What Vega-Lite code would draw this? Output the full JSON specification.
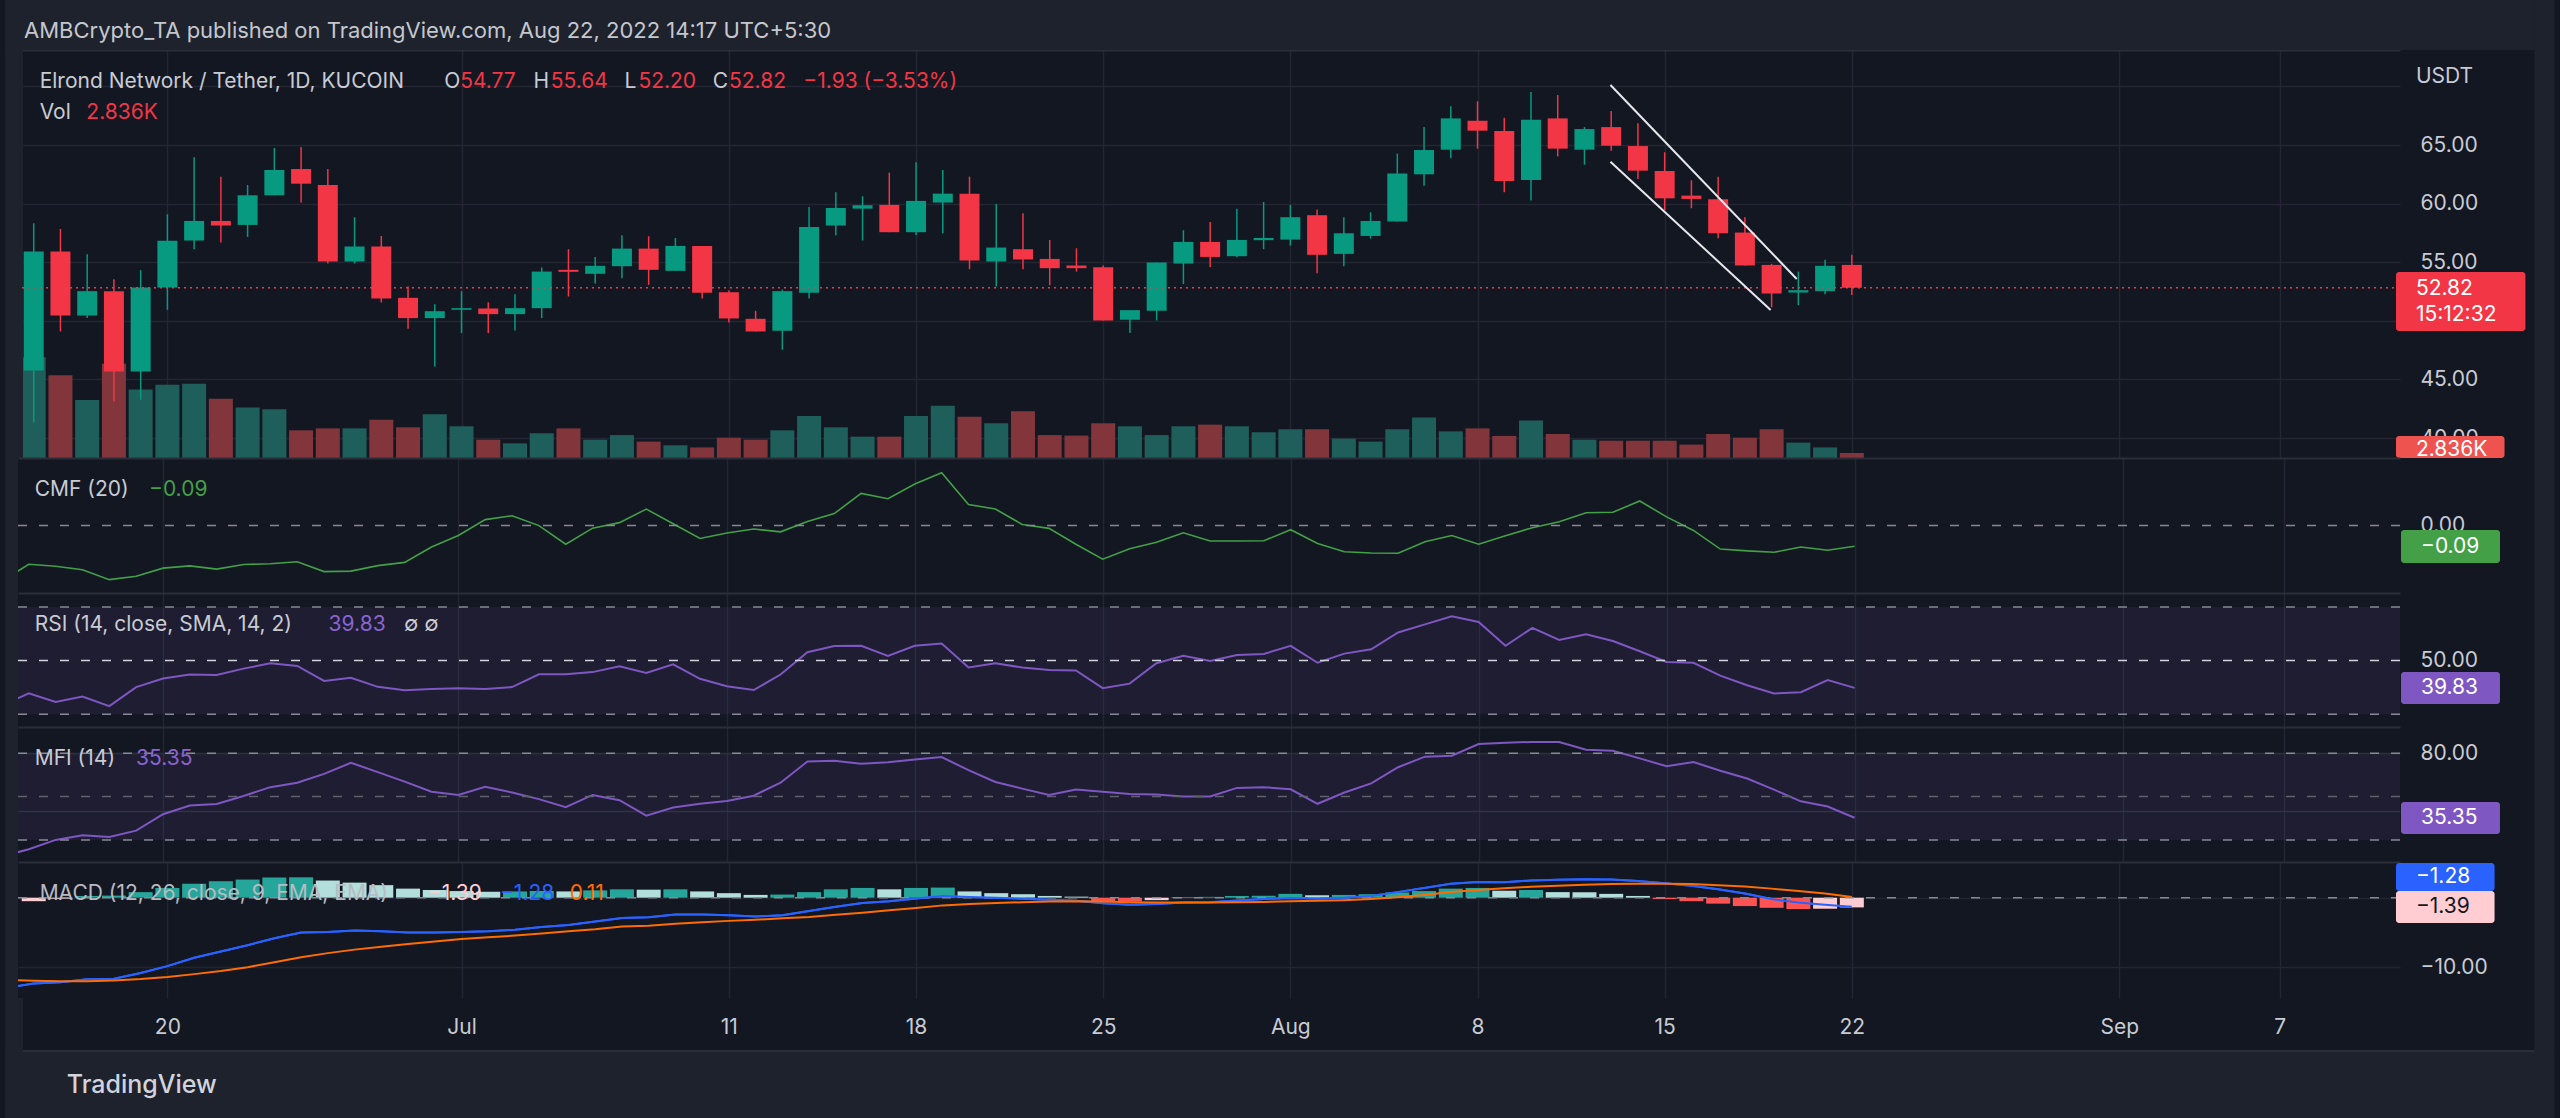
{
  "$schema": "https://vega.github.io/schema/vega-lite/v6.json",
  "autosize": {"type": "none"},
  "padding": {"left": 18, "top": 50, "right": 2542, "bottom": 1068},
  "background": "#131722",
  "spacing": 0,
  "bounds": "flush",
  "config": {
    "view": {"stroke": null, "fill": "#131722"},
    "font": "Inter",
    "text": {"font": "Inter"},
    "axis": {"labelFont": "Inter"}
  },
  "datasets": {
    "bars": [
      {"d":"2022-06-14","o":null,"h":null,"l":null,"c":null,"v":null,"cmf":-0.241,"rsi":33.2,"mfi":8.6,"macd":-12.9,"sig":-11.8,"hist":null,"hs":null},
      {"d":"2022-06-15","o":45.77,"h":58.32,"l":41.34,"c":55.91,"v":57.1,"cmf":-0.168,"rsi":37.8,"mfi":13.5,"macd":-12.3,"sig":-11.9,"hist":-0.5,"hs":"below_rising"},
      {"d":"2022-06-16","o":55.91,"h":57.84,"l":49.09,"c":50.45,"v":46.9,"cmf":-0.177,"rsi":34.6,"mfi":20.0,"macd":-12.1,"sig":-11.96,"hist":-0.15,"hs":"below_rising"},
      {"d":"2022-06-17","o":50.45,"h":55.68,"l":50.23,"c":52.53,"v":32.9,"cmf":-0.192,"rsi":36.6,"mfi":23.2,"macd":-11.7,"sig":-11.96,"hist":0.25,"hs":"above_rising"},
      {"d":"2022-06-18","o":52.53,"h":53.55,"l":43.12,"c":45.68,"v":53.5,"cmf":-0.235,"rsi":33.0,"mfi":22.0,"macd":-11.6,"sig":-11.86,"hist":0.3,"hs":"above_rising"},
      {"d":"2022-06-19","o":45.68,"h":54.32,"l":43.27,"c":52.84,"v":38.9,"cmf":-0.220,"rsi":40.1,"mfi":26.4,"macd":-10.8,"sig":-11.66,"hist":0.8,"hs":"above_rising"},
      {"d":"2022-06-20","o":52.84,"h":59.09,"l":50.94,"c":56.82,"v":41.6,"cmf":-0.185,"rsi":43.3,"mfi":37.8,"macd":-9.8,"sig":-11.36,"hist":1.4,"hs":"above_rising"},
      {"d":"2022-06-21","o":56.85,"h":63.95,"l":56.11,"c":58.52,"v":42.1,"cmf":-0.175,"rsi":44.8,"mfi":43.8,"macd":-8.6,"sig":-10.95,"hist":2.0,"hs":"above_rising"},
      {"d":"2022-06-22","o":58.52,"h":62.30,"l":56.68,"c":58.13,"v":33.6,"cmf":-0.189,"rsi":44.6,"mfi":44.8,"macd":-7.7,"sig":-10.5,"hist":2.36,"hs":"above_rising"},
      {"d":"2022-06-23","o":58.18,"h":61.59,"l":57.16,"c":60.71,"v":28.7,"cmf":-0.169,"rsi":47.0,"mfi":50.4,"macd":-6.8,"sig":-9.95,"hist":2.6,"hs":"above_rising"},
      {"d":"2022-06-24","o":60.71,"h":64.74,"l":60.71,"c":62.87,"v":27.6,"cmf":-0.166,"rsi":49.0,"mfi":56.5,"macd":-5.8,"sig":-9.25,"hist":2.9,"hs":"above_rising"},
      {"d":"2022-06-25","o":62.95,"h":64.83,"l":60.09,"c":61.70,"v":15.7,"cmf":-0.157,"rsi":48.0,"mfi":59.6,"macd":-5.0,"sig":-8.54,"hist":2.92,"hs":"above_rising"},
      {"d":"2022-06-26","o":61.59,"h":62.95,"l":54.89,"c":55.06,"v":16.8,"cmf":-0.200,"rsi":42.4,"mfi":65.7,"macd":-4.9,"sig":-7.94,"hist":2.46,"hs":"above_falling"},
      {"d":"2022-06-27","o":55.06,"h":58.84,"l":54.89,"c":56.34,"v":16.8,"cmf":-0.198,"rsi":43.6,"mfi":73.4,"macd":-4.7,"sig":-7.44,"hist":2.16,"hs":"above_falling"},
      {"d":"2022-06-28","o":56.34,"h":57.24,"l":51.56,"c":51.90,"v":21.7,"cmf":-0.174,"rsi":40.2,"mfi":66.9,"macd":-4.8,"sig":-7.04,"hist":1.8,"hs":"above_falling"},
      {"d":"2022-06-29","o":51.96,"h":52.93,"l":49.32,"c":50.23,"v":17.4,"cmf":-0.160,"rsi":38.9,"mfi":60.3,"macd":-5.0,"sig":-6.63,"hist":1.3,"hs":"above_falling"},
      {"d":"2022-06-30","o":50.23,"h":51.42,"l":46.11,"c":50.82,"v":24.8,"cmf":-0.093,"rsi":39.4,"mfi":53.3,"macd":-5.0,"sig":-6.28,"hist":1.1,"hs":"above_falling"},
      {"d":"2022-07-01","o":50.94,"h":52.53,"l":48.95,"c":51.08,"v":18.0,"cmf":-0.043,"rsi":39.7,"mfi":51.1,"macd":-4.9,"sig":-5.93,"hist":0.95,"hs":"above_falling"},
      {"d":"2022-07-02","o":51.05,"h":51.59,"l":48.95,"c":50.57,"v":10.4,"cmf":0.026,"rsi":39.4,"mfi":56.7,"macd":-4.8,"sig":-5.68,"hist":0.85,"hs":"above_falling"},
      {"d":"2022-07-03","o":50.57,"h":52.27,"l":49.18,"c":51.08,"v":8.3,"cmf":0.043,"rsi":40.1,"mfi":52.8,"macd":-4.6,"sig":-5.43,"hist":0.9,"hs":"above_rising"},
      {"d":"2022-07-04","o":51.08,"h":54.55,"l":50.23,"c":54.20,"v":14.0,"cmf":0.000,"rsi":44.9,"mfi":48.2,"macd":-4.2,"sig":-5.13,"hist":0.95,"hs":"above_rising"},
      {"d":"2022-07-05","o":54.35,"h":56.11,"l":52.07,"c":54.18,"v":16.8,"cmf":-0.081,"rsi":44.9,"mfi":42.6,"macd":-3.9,"sig":-4.82,"hist":0.9,"hs":"above_falling"},
      {"d":"2022-07-06","o":54.01,"h":55.45,"l":53.18,"c":54.69,"v":10.4,"cmf":-0.011,"rsi":45.7,"mfi":51.1,"macd":-3.4,"sig":-4.52,"hist":1.05,"hs":"above_rising"},
      {"d":"2022-07-07","o":54.66,"h":57.30,"l":53.64,"c":56.16,"v":13.0,"cmf":0.013,"rsi":47.9,"mfi":47.5,"macd":-2.9,"sig":-4.12,"hist":1.2,"hs":"above_rising"},
      {"d":"2022-07-08","o":56.16,"h":57.22,"l":53.07,"c":54.35,"v":9.3,"cmf":0.072,"rsi":45.4,"mfi":36.8,"macd":-2.8,"sig":-4.02,"hist":1.15,"hs":"above_falling"},
      {"d":"2022-07-09","o":54.26,"h":57.07,"l":54.26,"c":56.39,"v":7.2,"cmf":0.008,"rsi":48.6,"mfi":42.4,"macd":-2.4,"sig":-3.72,"hist":1.2,"hs":"above_rising"},
      {"d":"2022-07-10","o":56.39,"h":56.39,"l":51.90,"c":52.39,"v":6.0,"cmf":-0.056,"rsi":43.2,"mfi":45.0,"macd":-2.4,"sig":-3.52,"hist":0.9,"hs":"above_falling"},
      {"d":"2022-07-11","o":52.44,"h":52.59,"l":49.86,"c":50.20,"v":11.5,"cmf":-0.032,"rsi":40.4,"mfi":47.0,"macd":-2.5,"sig":-3.32,"hist":0.65,"hs":"above_falling"},
      {"d":"2022-07-12","o":50.17,"h":50.85,"l":49.09,"c":49.09,"v":10.4,"cmf":-0.015,"rsi":39.0,"mfi":50.6,"macd":-2.7,"sig":-3.17,"hist":0.4,"hs":"above_falling"},
      {"d":"2022-07-13","o":49.15,"h":52.67,"l":47.53,"c":52.53,"v":15.7,"cmf":-0.027,"rsi":44.8,"mfi":59.6,"macd":-2.5,"sig":-2.96,"hist":0.45,"hs":"above_rising"},
      {"d":"2022-07-14","o":52.39,"h":59.72,"l":51.90,"c":58.01,"v":23.8,"cmf":0.018,"rsi":53.1,"mfi":74.2,"macd":-1.9,"sig":-2.76,"hist":0.8,"hs":"above_rising"},
      {"d":"2022-07-15","o":58.13,"h":60.97,"l":57.30,"c":59.63,"v":17.4,"cmf":0.052,"rsi":55.4,"mfi":74.7,"macd":-1.3,"sig":-2.46,"hist":1.2,"hs":"above_rising"},
      {"d":"2022-07-16","o":59.57,"h":60.63,"l":56.85,"c":59.86,"v":12.1,"cmf":0.140,"rsi":55.5,"mfi":72.7,"macd":-0.75,"sig":-2.16,"hist":1.4,"hs":"above_rising"},
      {"d":"2022-07-17","o":59.89,"h":62.64,"l":57.56,"c":57.56,"v":12.1,"cmf":0.117,"rsi":51.7,"mfi":73.7,"macd":-0.5,"sig":-1.81,"hist":1.2,"hs":"above_falling"},
      {"d":"2022-07-18","o":57.56,"h":63.52,"l":57.33,"c":60.23,"v":23.8,"cmf":0.181,"rsi":55.5,"mfi":75.6,"macd":-0.1,"sig":-1.46,"hist":1.4,"hs":"above_rising"},
      {"d":"2022-07-19","o":60.09,"h":62.87,"l":57.47,"c":60.85,"v":29.7,"cmf":0.230,"rsi":56.4,"mfi":77.3,"macd":0.25,"sig":-1.1,"hist":1.45,"hs":"above_rising"},
      {"d":"2022-07-20","o":60.85,"h":62.30,"l":54.40,"c":55.14,"v":23.4,"cmf":0.092,"rsi":47.4,"mfi":68.3,"macd":0.1,"sig":-0.9,"hist":0.9,"hs":"above_falling"},
      {"d":"2022-07-21","o":55.06,"h":59.97,"l":52.93,"c":56.25,"v":19.7,"cmf":0.072,"rsi":49.0,"mfi":60.1,"macd":0.0,"sig":-0.75,"hist":0.65,"hs":"above_falling"},
      {"d":"2022-07-22","o":56.11,"h":59.18,"l":54.40,"c":55.23,"v":26.5,"cmf":0.005,"rsi":47.4,"mfi":55.5,"macd":-0.15,"sig":-0.65,"hist":0.5,"hs":"above_falling"},
      {"d":"2022-07-23","o":55.28,"h":56.90,"l":53.04,"c":54.49,"v":13.0,"cmf":-0.012,"rsi":46.5,"mfi":51.1,"macd":-0.3,"sig":-0.55,"hist":0.25,"hs":"above_falling"},
      {"d":"2022-07-24","o":54.72,"h":56.19,"l":54.20,"c":54.49,"v":12.7,"cmf":-0.081,"rsi":46.3,"mfi":54.8,"macd":-0.45,"sig":-0.5,"hist":0.15,"hs":"above_falling"},
      {"d":"2022-07-25","o":54.57,"h":54.72,"l":50.03,"c":50.03,"v":19.7,"cmf":-0.146,"rsi":39.7,"mfi":53.3,"macd":-0.8,"sig":-0.55,"hist":-0.5,"hs":"below_falling"},
      {"d":"2022-07-26","o":50.09,"h":50.91,"l":48.95,"c":50.91,"v":18.0,"cmf":-0.101,"rsi":41.4,"mfi":51.8,"macd":-1.0,"sig":-0.65,"hist":-0.55,"hs":"below_falling"},
      {"d":"2022-07-27","o":50.85,"h":54.97,"l":50.03,"c":54.97,"v":13.0,"cmf":-0.072,"rsi":49.0,"mfi":51.4,"macd":-0.9,"sig":-0.7,"hist":-0.35,"hs":"below_rising"},
      {"d":"2022-07-28","o":54.89,"h":57.73,"l":53.13,"c":56.73,"v":18.0,"cmf":-0.031,"rsi":51.8,"mfi":50.1,"macd":-0.7,"sig":-0.7,"hist":0.1,"hs":"above_rising"},
      {"d":"2022-07-29","o":56.73,"h":58.44,"l":54.60,"c":55.45,"v":18.9,"cmf":-0.067,"rsi":49.9,"mfi":50.1,"macd":-0.65,"sig":-0.7,"hist":0.12,"hs":"above_rising"},
      {"d":"2022-07-30","o":55.51,"h":59.57,"l":55.45,"c":56.90,"v":18.0,"cmf":-0.067,"rsi":52.1,"mfi":56.0,"macd":-0.4,"sig":-0.65,"hist":0.25,"hs":"above_rising"},
      {"d":"2022-07-31","o":56.88,"h":60.14,"l":56.11,"c":57.07,"v":14.6,"cmf":-0.066,"rsi":52.5,"mfi":56.5,"macd":-0.2,"sig":-0.6,"hist":0.28,"hs":"above_rising"},
      {"d":"2022-08-01","o":56.93,"h":59.89,"l":56.42,"c":58.84,"v":16.3,"cmf":-0.018,"rsi":55.5,"mfi":55.0,"macd":-0.05,"sig":-0.5,"hist":0.55,"hs":"above_rising"},
      {"d":"2022-08-02","o":59.01,"h":59.49,"l":54.06,"c":55.63,"v":16.3,"cmf":-0.078,"rsi":49.2,"mfi":45.0,"macd":-0.1,"sig":-0.45,"hist":0.35,"hs":"above_falling"},
      {"d":"2022-08-03","o":55.71,"h":58.84,"l":54.66,"c":57.47,"v":11.0,"cmf":-0.114,"rsi":52.6,"mfi":52.8,"macd":0.0,"sig":-0.35,"hist":0.4,"hs":"above_rising"},
      {"d":"2022-08-04","o":57.24,"h":59.26,"l":57.02,"c":58.52,"v":9.3,"cmf":-0.119,"rsi":54.2,"mfi":59.1,"macd":0.25,"sig":-0.2,"hist":0.5,"hs":"above_rising"},
      {"d":"2022-08-05","o":58.47,"h":64.26,"l":58.47,"c":62.56,"v":16.3,"cmf":-0.120,"rsi":60.5,"mfi":70.3,"macd":0.8,"sig":0.05,"hist":0.75,"hs":"above_rising"},
      {"d":"2022-08-06","o":62.50,"h":66.53,"l":61.53,"c":64.57,"v":22.9,"cmf":-0.070,"rsi":63.5,"mfi":77.6,"macd":1.4,"sig":0.4,"hist":0.95,"hs":"above_rising"},
      {"d":"2022-08-07","o":64.60,"h":68.30,"l":63.86,"c":67.27,"v":15.1,"cmf":-0.043,"rsi":66.5,"mfi":78.3,"macd":2.0,"sig":0.8,"hist":1.3,"hs":"above_rising"},
      {"d":"2022-08-08","o":67.07,"h":68.72,"l":64.69,"c":66.22,"v":16.8,"cmf":-0.081,"rsi":64.4,"mfi":86.3,"macd":2.26,"sig":1.1,"hist":1.4,"hs":"above_rising"},
      {"d":"2022-08-09","o":66.19,"h":67.33,"l":60.97,"c":61.93,"v":12.5,"cmf":-0.044,"rsi":55.5,"mfi":87.3,"macd":2.2,"sig":1.36,"hist":1.0,"hs":"above_falling"},
      {"d":"2022-08-10","o":62.02,"h":69.52,"l":60.26,"c":67.16,"v":21.2,"cmf":-0.009,"rsi":62.2,"mfi":87.8,"macd":2.46,"sig":1.56,"hist":1.1,"hs":"above_rising"},
      {"d":"2022-08-11","o":67.27,"h":69.26,"l":64.03,"c":64.69,"v":13.6,"cmf":0.017,"rsi":57.7,"mfi":87.8,"macd":2.56,"sig":1.7,"hist":0.8,"hs":"above_falling"},
      {"d":"2022-08-12","o":64.60,"h":66.53,"l":63.32,"c":66.36,"v":10.4,"cmf":0.056,"rsi":59.8,"mfi":82.4,"macd":2.66,"sig":1.86,"hist":0.78,"hs":"above_falling"},
      {"d":"2022-08-13","o":66.53,"h":67.90,"l":64.52,"c":64.94,"v":9.8,"cmf":0.058,"rsi":57.3,"mfi":81.7,"macd":2.6,"sig":1.96,"hist":0.55,"hs":"above_falling"},
      {"d":"2022-08-14","o":64.91,"h":66.85,"l":62.10,"c":62.81,"v":9.8,"cmf":0.107,"rsi":53.5,"mfi":76.4,"macd":2.4,"sig":2.0,"hist":0.25,"hs":"above_falling"},
      {"d":"2022-08-15","o":62.78,"h":64.38,"l":59.43,"c":60.45,"v":9.8,"cmf":0.038,"rsi":49.5,"mfi":71.0,"macd":2.06,"sig":2.0,"hist":-0.2,"hs":"below_falling"},
      {"d":"2022-08-16","o":60.68,"h":61.99,"l":59.60,"c":60.40,"v":7.6,"cmf":-0.021,"rsi":49.2,"mfi":73.9,"macd":1.7,"sig":1.96,"hist":-0.5,"hs":"below_falling"},
      {"d":"2022-08-17","o":60.37,"h":62.30,"l":57.05,"c":57.47,"v":13.6,"cmf":-0.102,"rsi":44.4,"mfi":67.9,"macd":1.2,"sig":1.8,"hist":-0.85,"hs":"below_falling"},
      {"d":"2022-08-18","o":57.53,"h":58.84,"l":54.72,"c":54.72,"v":11.5,"cmf":-0.110,"rsi":40.8,"mfi":62.5,"macd":0.6,"sig":1.6,"hist":-1.2,"hs":"below_falling"},
      {"d":"2022-08-19","o":54.77,"h":54.86,"l":51.16,"c":52.33,"v":16.3,"cmf":-0.116,"rsi":37.7,"mfi":54.8,"macd":-0.2,"sig":1.3,"hist":-1.45,"hs":"below_falling"},
      {"d":"2022-08-20","o":52.41,"h":54.20,"l":51.33,"c":52.61,"v":8.7,"cmf":-0.093,"rsi":38.2,"mfi":46.7,"macd":-0.7,"sig":0.95,"hist":-1.62,"hs":"below_falling"},
      {"d":"2022-08-21","o":52.53,"h":55.20,"l":52.27,"c":54.69,"v":6.0,"cmf":-0.107,"rsi":42.7,"mfi":43.1,"macd":-1.0,"sig":0.6,"hist":-1.58,"hs":"below_rising"},
      {"d":"2022-08-22","o":54.77,"h":55.64,"l":52.20,"c":52.82,"v":2.836,"cmf":-0.090,"rsi":39.83,"mfi":35.35,"macd":-1.28,"sig":0.11,"hist":-1.39,"hs":"below_rising"}
    ],
    "trend": [
      {"line":"upper","d":"2022-08-12T23:20:00Z","p":70.12},
      {"line":"upper","d":"2022-08-19T22:33:00Z","p":53.57},
      {"line":"lower","d":"2022-08-12T23:20:00Z","p":63.58},
      {"line":"lower","d":"2022-08-18T23:07:00Z","p":50.92}
    ]
  },
  "vconcat": [
    {
      "width": 2382, "height": 408,
      "layer": [
        {
          "data": {"name": "bars"},
          "mark": {"type": "bar", "width": 24},
          "encoding": {
            "x": {"field": "d", "type": "temporal", "scale": {"type": "utc", "domain": [{"year":2022,"month":6,"date":14,"hours":14,"minutes":23,"utc":true},{"year":2022,"month":9,"date":11,"hours":7,"minutes":34,"utc":true}]}},
            "y": {"field": "v", "type": "quantitative", "scale": {"domain": [0, 231.4], "nice": false, "zero": false}, "axis": null},
            "color": {"condition": {"test": "datum.c >= datum.o", "value": "#1f5f5b"}, "value": "#82363b"}
          }
        },
        {
          "layer": [
            {
              "data": {"name": "bars"},
              "mark": {"type": "rule", "strokeWidth": 1.5},
              "encoding": {
                "x": {"field": "d", "type": "temporal", "scale": {"type": "utc", "domain": [{"year":2022,"month":6,"date":14,"hours":14,"minutes":23,"utc":true},{"year":2022,"month":9,"date":11,"hours":7,"minutes":34,"utc":true}]},
                  "axis": {"orient": "top", "title": null, "labels": false, "ticks": false, "domain": true, "domainColor": "#2a2e39", "domainWidth": 2, "grid": true, "gridColor": "#232632", "gridWidth": 1.5, "zindex": 0,
                    "values": [{"year":2022,"month":6,"date":20,"utc":true},{"year":2022,"month":7,"date":1,"utc":true},{"year":2022,"month":7,"date":11,"utc":true},{"year":2022,"month":7,"date":18,"utc":true},{"year":2022,"month":7,"date":25,"utc":true},{"year":2022,"month":8,"date":1,"utc":true},{"year":2022,"month":8,"date":8,"utc":true},{"year":2022,"month":8,"date":15,"utc":true},{"year":2022,"month":8,"date":22,"utc":true},{"year":2022,"month":9,"date":1,"utc":true},{"year":2022,"month":9,"date":7,"utc":true}]}},
                "y": {"field": "l", "type": "quantitative", "scale": {"domain": [38.294, 73.106], "nice": false, "zero": false},
                  "axis": {"orient": "right", "title": null, "ticks": false, "tickSize": 0, "domain": false, "labelPadding": 20, "labelFontSize": 21, "labelColor": "#c8cbd3", "labelAlign": "left", "labelBaseline": "middle", "labelOverlap": false, "grid": true, "gridColor": "#232632", "gridWidth": 1.5, "zindex": 0, "values": [40, 45, 50, 55, 60, 65, 70], "labelExpr": "(datum.value == 70 || datum.value == 50) ? '' : format(datum.value, '.2f')"}},
                "y2": {"field": "h"},
                "color": {"condition": {"test": "datum.c >= datum.o", "value": "#089981"}, "value": "#f23645"}
              }
            },
            {"data": {"values": [{}]}, "mark": {"type": "rect", "color": "#1e222d"},
             "encoding": {"x": {"datum": {"year":2022,"month":6,"date":13,"hours":22,"minutes":18,"utc":true}, "type": "temporal"}, "x2": {"datum": {"year":2022,"month":9,"date":17,"hours":6,"minutes":35,"utc":true}}, "y": {"datum": 77.4, "type": "quantitative"}, "y2": {"datum": 73.106}}},
            {"data": {"values": [{}]}, "mark": {"type": "rect", "color": "#1e222d"},
             "encoding": {"x": {"datum": {"year":2022,"month":6,"date":13,"hours":22,"minutes":18,"utc":true}, "type": "temporal"}, "x2": {"datum": {"year":2022,"month":6,"date":14,"hours":14,"minutes":23,"utc":true}}, "y": {"datum": 77.4, "type": "quantitative"}, "y2": {"datum": -18.2}}},
            {"data": {"values": [{}]}, "mark": {"type": "rect", "color": "#1e222d"},
             "encoding": {"x": {"datum": {"year":2022,"month":9,"date":16,"hours":12,"minutes":41,"utc":true}, "type": "temporal"}, "x2": {"datum": {"year":2022,"month":9,"date":17,"hours":6,"minutes":35,"utc":true}}, "y": {"datum": 77.4, "type": "quantitative"}, "y2": {"datum": -18.2}}},
            {
              "data": {"name": "bars"},
              "mark": {"type": "bar", "width": 20},
              "encoding": {
                "x": {"field": "d", "type": "temporal"},
                "y": {"field": "o", "type": "quantitative", "scale": {"domain": [38.294, 73.106], "nice": false, "zero": false}},
                "y2": {"field": "c"},
                "color": {"condition": {"test": "datum.c >= datum.o", "value": "#089981"}, "value": "#f23645"}
              }
            },
            {
              "data": {"values": [{}]},
              "mark": {"type": "rule", "color": "#f23645", "strokeDash": [2, 4], "strokeWidth": 1.5},
              "encoding": {"y": {"datum": 52.82, "type": "quantitative"}}
            },
            {
              "data": {"name": "trend"},
              "mark": {"type": "line", "color": "#e6e8ee", "strokeWidth": 2, "clip": true},
              "encoding": {
                "x": {"field": "d", "type": "temporal"},
                "y": {"field": "p", "type": "quantitative"},
                "detail": {"field": "line"}
              }
            },
            {"data": {"values": [{}]}, "mark": {"type": "text", "text": "AMBCrypto_TA published on TradingView.com, Aug 22, 2022 14:17 UTC+5:30", "align": "left", "baseline": "middle", "fontSize": 22, "color": "#c4c7ce"},
             "encoding": {"x": {"datum": {"year":2022,"month":6,"date":14,"hours":15,"minutes":17,"utc":true}, "type": "temporal"}, "y": {"datum": 74.73, "type": "quantitative"}}},
            {"data": {"values": [{}]}, "mark": {"type": "text", "text": "Elrond Network / Tether, 1D, KUCOIN", "align": "left", "baseline": "middle", "fontSize": 21, "color": "#c8cbd3"},
             "encoding": {"x": {"datum": {"year":2022,"month":6,"date":15,"hours":5,"minutes":19,"utc":true}, "type": "temporal"}, "y": {"datum": 70.40, "type": "quantitative"}}},
            {"data": {"values": [{}]}, "mark": {"type": "text", "text": "O", "align": "left", "baseline": "middle", "fontSize": 21, "color": "#c8cbd3"},
             "encoding": {"x": {"datum": {"year":2022,"month":6,"date":30,"hours":8,"minutes":30,"utc":true}, "type": "temporal"}, "y": {"datum": 70.40, "type": "quantitative"}}},
            {"data": {"values": [{}]}, "mark": {"type": "text", "text": "54.77", "align": "left", "baseline": "middle", "fontSize": 21, "color": "#f23645"},
             "encoding": {"x": {"datum": {"year":2022,"month":6,"date":30,"hours":22,"minutes":48,"utc":true}, "type": "temporal"}, "y": {"datum": 70.40, "type": "quantitative"}}},
            {"data": {"values": [{}]}, "mark": {"type": "text", "text": "H", "align": "left", "baseline": "middle", "fontSize": 21, "color": "#c8cbd3"},
             "encoding": {"x": {"datum": {"year":2022,"month":7,"date":3,"hours":16,"minutes":35,"utc":true}, "type": "temporal"}, "y": {"datum": 70.40, "type": "quantitative"}}},
            {"data": {"values": [{}]}, "mark": {"type": "text", "text": "55.64", "align": "left", "baseline": "middle", "fontSize": 21, "color": "#f23645"},
             "encoding": {"x": {"datum": {"year":2022,"month":7,"date":4,"hours":8,"minutes":8,"utc":true}, "type": "temporal"}, "y": {"datum": 70.40, "type": "quantitative"}}},
            {"data": {"values": [{}]}, "mark": {"type": "text", "text": "L", "align": "left", "baseline": "middle", "fontSize": 21, "color": "#c8cbd3"},
             "encoding": {"x": {"datum": {"year":2022,"month":7,"date":7,"hours":2,"minutes":17,"utc":true}, "type": "temporal"}, "y": {"datum": 70.40, "type": "quantitative"}}},
            {"data": {"values": [{}]}, "mark": {"type": "text", "text": "52.20", "align": "left", "baseline": "middle", "fontSize": 21, "color": "#f23645"},
             "encoding": {"x": {"datum": {"year":2022,"month":7,"date":7,"hours":14,"minutes":47,"utc":true}, "type": "temporal"}, "y": {"datum": 70.40, "type": "quantitative"}}},
            {"data": {"values": [{}]}, "mark": {"type": "text", "text": "C", "align": "left", "baseline": "middle", "fontSize": 21, "color": "#c8cbd3"},
             "encoding": {"x": {"datum": {"year":2022,"month":7,"date":10,"hours":9,"minutes":29,"utc":true}, "type": "temporal"}, "y": {"datum": 70.40, "type": "quantitative"}}},
            {"data": {"values": [{}]}, "mark": {"type": "text", "text": "52.82", "align": "left", "baseline": "middle", "fontSize": 21, "color": "#f23645"},
             "encoding": {"x": {"datum": {"year":2022,"month":7,"date":11,"hours":0,"minutes":9,"utc":true}, "type": "temporal"}, "y": {"datum": 70.40, "type": "quantitative"}}},
            {"data": {"values": [{}]}, "mark": {"type": "text", "text": "−1.93 (−3.53%)", "align": "left", "baseline": "middle", "fontSize": 21, "color": "#f23645"},
             "encoding": {"x": {"datum": {"year":2022,"month":7,"date":13,"hours":18,"minutes":49,"utc":true}, "type": "temporal"}, "y": {"datum": 70.40, "type": "quantitative"}}},
            {"data": {"values": [{}]}, "mark": {"type": "text", "text": "Vol", "align": "left", "baseline": "middle", "fontSize": 21, "color": "#c8cbd3"},
             "encoding": {"x": {"datum": {"year":2022,"month":6,"date":15,"hours":5,"minutes":19,"utc":true}, "type": "temporal"}, "y": {"datum": 67.70, "type": "quantitative"}}},
            {"data": {"values": [{}]}, "mark": {"type": "text", "text": "2.836K", "align": "left", "baseline": "middle", "fontSize": 21, "color": "#f23645"},
             "encoding": {"x": {"datum": {"year":2022,"month":6,"date":16,"hours":23,"minutes":14,"utc":true}, "type": "temporal"}, "y": {"datum": 67.70, "type": "quantitative"}}},
            {"data": {"values": [{}]}, "mark": {"type": "text", "text": "USDT", "align": "left", "baseline": "middle", "fontSize": 21, "color": "#c8cbd3"},
             "encoding": {"x": {"datum": {"year":2022,"month":9,"date":12,"hours":2,"minutes":20,"utc":true}, "type": "temporal"}, "y": {"datum": 70.83, "type": "quantitative"}}},
            {"data": {"values": [{}]}, "mark": {"type": "rect", "color": "#f23645", "cornerRadius": 3},
             "encoding": {"x": {"datum": {"year":2022,"month":9,"date":11,"hours":8,"minutes":27,"utc":true}, "type": "temporal"}, "x2": {"datum": {"year":2022,"month":9,"date":16,"hours":4,"minutes":39,"utc":true}}, "y": {"datum": 54.164, "type": "quantitative"}, "y2": {"datum": 49.130}}},
            {"data": {"values": [{}]}, "mark": {"type": "text", "text": "52.82", "align": "left", "baseline": "middle", "fontSize": 21, "color": "#ffffff"},
             "encoding": {"x": {"datum": {"year":2022,"month":9,"date":12,"hours":2,"minutes":20,"utc":true}, "type": "temporal"}, "y": {"datum": 52.74, "type": "quantitative"}}},
            {"data": {"values": [{}]}, "mark": {"type": "text", "text": "15:12:32", "align": "left", "baseline": "middle", "fontSize": 21, "color": "#ffffff"},
             "encoding": {"x": {"datum": {"year":2022,"month":9,"date":12,"hours":2,"minutes":20,"utc":true}, "type": "temporal"}, "y": {"datum": 50.495, "type": "quantitative"}}},
            {"data": {"values": [{}]}, "mark": {"type": "rect", "color": "#ef5350", "cornerRadius": 3},
             "encoding": {"x": {"datum": {"year":2022,"month":9,"date":11,"hours":8,"minutes":27,"utc":true}, "type": "temporal"}, "x2": {"datum": {"year":2022,"month":9,"date":15,"hours":9,"minutes":53,"utc":true}}, "y": {"datum": 40.171, "type": "quantitative"}, "y2": {"datum": 38.294}}},
            {"data": {"values": [{}]}, "mark": {"type": "text", "text": "2.836K", "align": "left", "baseline": "middle", "fontSize": 21, "color": "#ffffff"},
             "encoding": {"x": {"datum": {"year":2022,"month":9,"date":12,"hours":2,"minutes":20,"utc":true}, "type": "temporal"}, "y": {"datum": 38.976, "type": "quantitative"}}}
          ]
        }
      ],
      "resolve": {"scale": {"y": "independent"}}
    },
    {
      "width": 2382, "height": 135,
      "layer": [
        {
          "data": {"name": "bars"},
          "mark": {"type": "line", "color": "#43a047", "strokeWidth": 1.6, "clip": true},
          "encoding": {
            "x": {"field": "d", "type": "temporal", "scale": {"type": "utc", "domain": [{"year":2022,"month":6,"date":14,"hours":14,"minutes":23,"utc":true},{"year":2022,"month":9,"date":11,"hours":7,"minutes":34,"utc":true}]},
              "axis": {"orient": "top", "title": null, "labels": false, "ticks": false, "domain": true, "domainColor": "#2a2e39", "domainWidth": 2, "grid": true, "gridColor": "#232632", "gridWidth": 1.5, "zindex": 0,
                "values": [{"year":2022,"month":6,"date":20,"utc":true},{"year":2022,"month":7,"date":1,"utc":true},{"year":2022,"month":7,"date":11,"utc":true},{"year":2022,"month":7,"date":18,"utc":true},{"year":2022,"month":7,"date":25,"utc":true},{"year":2022,"month":8,"date":1,"utc":true},{"year":2022,"month":8,"date":8,"utc":true},{"year":2022,"month":8,"date":15,"utc":true},{"year":2022,"month":8,"date":22,"utc":true},{"year":2022,"month":9,"date":1,"utc":true},{"year":2022,"month":9,"date":7,"utc":true}]}},
            "y": {"field": "cmf", "type": "quantitative", "scale": {"domain": [-0.293, 0.2939], "nice": false, "zero": false},
              "axis": {"orient": "right", "title": null, "ticks": false, "tickSize": 0, "domain": false, "labelPadding": 20, "labelFontSize": 21, "labelColor": "#c8cbd3", "labelAlign": "left", "labelBaseline": "middle", "labelOverlap": false, "grid": false, "zindex": 0, "values": [0], "format": ".2f"}}
          }
        },
        {"data": {"values": [{}]}, "mark": {"type": "rule", "color": "#868993", "strokeDash": [9, 12], "strokeWidth": 1.5},
         "encoding": {"y": {"datum": 0, "type": "quantitative"}}},
        {"data": {"values": [{}]}, "mark": {"type": "text", "text": "CMF (20)", "align": "left", "baseline": "middle", "fontSize": 21, "color": "#c8cbd3"},
         "encoding": {"x": {"datum": {"year":2022,"month":6,"date":15,"hours":5,"minutes":19,"utc":true}, "type": "temporal"}, "y": {"datum": 0.156, "type": "quantitative"}}},
        {"data": {"values": [{}]}, "mark": {"type": "text", "text": "−0.09", "align": "left", "baseline": "middle", "fontSize": 21, "color": "#43a047"},
         "encoding": {"x": {"datum": {"year":2022,"month":6,"date":19,"hours":11,"minutes":29,"utc":true}, "type": "temporal"}, "y": {"datum": 0.156, "type": "quantitative"}}},
        {"data": {"values": [{}]}, "mark": {"type": "rect", "color": "#43a047", "cornerRadius": 3},
         "encoding": {"x": {"datum": {"year":2022,"month":9,"date":11,"hours":8,"minutes":27,"utc":true}, "type": "temporal"}, "x2": {"datum": {"year":2022,"month":9,"date":15,"hours":0,"minutes":56,"utc":true}}, "y": {"datum": -0.0191, "type": "quantitative"}, "y2": {"datum": -0.1626}}},
        {"data": {"values": [{}]}, "mark": {"type": "text", "text": "−0.09", "align": "left", "baseline": "middle", "fontSize": 21, "color": "#ffffff"},
         "encoding": {"x": {"datum": {"year":2022,"month":9,"date":12,"hours":2,"minutes":20,"utc":true}, "type": "temporal"}, "y": {"datum": -0.0909, "type": "quantitative"}}}
      ]
    },
    {
      "width": 2382, "height": 134,
      "layer": [
        {
          "data": {"name": "bars"},
          "mark": {"type": "line", "color": "#7e57c2", "strokeWidth": 2, "clip": true},
          "encoding": {
            "x": {"field": "d", "type": "temporal", "scale": {"type": "utc", "domain": [{"year":2022,"month":6,"date":14,"hours":14,"minutes":23,"utc":true},{"year":2022,"month":9,"date":11,"hours":7,"minutes":34,"utc":true}]},
              "axis": {"orient": "top", "title": null, "labels": false, "ticks": false, "domain": true, "domainColor": "#2a2e39", "domainWidth": 2, "grid": true, "gridColor": "#232632", "gridWidth": 1.5, "zindex": 0,
                "values": [{"year":2022,"month":6,"date":20,"utc":true},{"year":2022,"month":7,"date":1,"utc":true},{"year":2022,"month":7,"date":11,"utc":true},{"year":2022,"month":7,"date":18,"utc":true},{"year":2022,"month":7,"date":25,"utc":true},{"year":2022,"month":8,"date":1,"utc":true},{"year":2022,"month":8,"date":8,"utc":true},{"year":2022,"month":8,"date":15,"utc":true},{"year":2022,"month":8,"date":22,"utc":true},{"year":2022,"month":9,"date":1,"utc":true},{"year":2022,"month":9,"date":7,"utc":true}]}},
            "y": {"field": "rsi", "type": "quantitative", "scale": {"domain": [25.22, 75.22], "nice": false, "zero": false},
              "axis": {"orient": "right", "title": null, "ticks": false, "tickSize": 0, "domain": false, "labelPadding": 20, "labelFontSize": 21, "labelColor": "#c8cbd3", "labelAlign": "left", "labelBaseline": "middle", "labelOverlap": false, "grid": false, "zindex": 0, "values": [50], "format": ".2f"}}
          }
        },
        {"data": {"values": [{}]}, "mark": {"type": "rect", "color": "#7e57c2", "opacity": 0.1},
         "encoding": {"y": {"datum": 70, "type": "quantitative"}, "y2": {"datum": 30}}},
        {"data": {"values": [{}]}, "mark": {"type": "rule", "color": "#868993", "strokeDash": [9, 12], "strokeWidth": 1.5},
         "encoding": {"y": {"datum": 70, "type": "quantitative"}}},
        {"data": {"values": [{}]}, "mark": {"type": "rule", "color": "#d1d4dc", "strokeDash": [9, 12], "strokeWidth": 1.5},
         "encoding": {"y": {"datum": 50, "type": "quantitative"}}},
        {"data": {"values": [{}]}, "mark": {"type": "rule", "color": "#868993", "strokeDash": [9, 12], "strokeWidth": 1.5},
         "encoding": {"y": {"datum": 30, "type": "quantitative"}}},
        {"data": {"values": [{}]}, "mark": {"type": "text", "text": "RSI (14, close, SMA, 14, 2)", "align": "left", "baseline": "middle", "fontSize": 21, "color": "#c8cbd3"},
         "encoding": {"x": {"datum": {"year":2022,"month":6,"date":15,"hours":5,"minutes":19,"utc":true}, "type": "temporal"}, "y": {"datum": 63.3, "type": "quantitative"}}},
        {"data": {"values": [{}]}, "mark": {"type": "text", "text": "39.83", "align": "left", "baseline": "middle", "fontSize": 21, "color": "#8a63d2"},
         "encoding": {"x": {"datum": {"year":2022,"month":6,"date":26,"hours":4,"minutes":2,"utc":true}, "type": "temporal"}, "y": {"datum": 63.3, "type": "quantitative"}}},
        {"data": {"values": [{}]}, "mark": {"type": "text", "text": "∅   ∅", "align": "left", "baseline": "middle", "fontSize": 21, "color": "#c8cbd3"},
         "encoding": {"x": {"datum": {"year":2022,"month":6,"date":28,"hours":23,"minutes":25,"utc":true}, "type": "temporal"}, "y": {"datum": 63.3, "type": "quantitative"}}},
        {"data": {"values": [{}]}, "mark": {"type": "rect", "color": "#7e57c2", "cornerRadius": 3},
         "encoding": {"x": {"datum": {"year":2022,"month":9,"date":11,"hours":8,"minutes":27,"utc":true}, "type": "temporal"}, "x2": {"datum": {"year":2022,"month":9,"date":15,"hours":0,"minutes":56,"utc":true}}, "y": {"datum": 45.75, "type": "quantitative"}, "y2": {"datum": 33.81}}},
        {"data": {"values": [{}]}, "mark": {"type": "text", "text": "39.83", "align": "left", "baseline": "middle", "fontSize": 21, "color": "#ffffff"},
         "encoding": {"x": {"datum": {"year":2022,"month":9,"date":12,"hours":2,"minutes":20,"utc":true}, "type": "temporal"}, "y": {"datum": 39.78, "type": "quantitative"}}}
      ]
    },
    {
      "width": 2382, "height": 135,
      "layer": [
        {
          "data": {"name": "bars"},
          "mark": {"type": "line", "color": "#7e57c2", "strokeWidth": 2, "clip": true},
          "encoding": {
            "x": {"field": "d", "type": "temporal", "scale": {"type": "utc", "domain": [{"year":2022,"month":6,"date":14,"hours":14,"minutes":23,"utc":true},{"year":2022,"month":9,"date":11,"hours":7,"minutes":34,"utc":true}]},
              "axis": {"orient": "top", "title": null, "labels": false, "ticks": false, "domain": true, "domainColor": "#2a2e39", "domainWidth": 2, "grid": true, "gridColor": "#232632", "gridWidth": 1.5, "zindex": 0,
                "values": [{"year":2022,"month":6,"date":20,"utc":true},{"year":2022,"month":7,"date":1,"utc":true},{"year":2022,"month":7,"date":11,"utc":true},{"year":2022,"month":7,"date":18,"utc":true},{"year":2022,"month":7,"date":25,"utc":true},{"year":2022,"month":8,"date":1,"utc":true},{"year":2022,"month":8,"date":8,"utc":true},{"year":2022,"month":8,"date":15,"utc":true},{"year":2022,"month":8,"date":22,"utc":true},{"year":2022,"month":9,"date":1,"utc":true},{"year":2022,"month":9,"date":7,"utc":true}]}},
            "y": {"field": "mfi", "type": "quantitative", "scale": {"domain": [4.71, 98.13], "nice": false, "zero": false},
              "axis": {"orient": "right", "title": null, "ticks": false, "tickSize": 0, "domain": false, "labelPadding": 20, "labelFontSize": 21, "labelColor": "#c8cbd3", "labelAlign": "left", "labelBaseline": "middle", "labelOverlap": false, "grid": true, "gridColor": "#2a2e39", "gridWidth": 1.5, "zindex": 0, "values": [40, 80], "labelExpr": "datum.value == 80 ? '80.00' : ''"}}
          }
        },
        {"data": {"values": [{}]}, "mark": {"type": "rect", "color": "#7e57c2", "opacity": 0.1},
         "encoding": {"y": {"datum": 80, "type": "quantitative"}, "y2": {"datum": 20}}},
        {"data": {"values": [{}]}, "mark": {"type": "rule", "color": "#868993", "strokeDash": [9, 12], "strokeWidth": 1.5},
         "encoding": {"y": {"datum": 80, "type": "quantitative"}}},
        {"data": {"values": [{}]}, "mark": {"type": "rule", "color": "#5f626d", "strokeDash": [9, 12], "strokeWidth": 1.5},
         "encoding": {"y": {"datum": 50, "type": "quantitative"}}},
        {"data": {"values": [{}]}, "mark": {"type": "rule", "color": "#868993", "strokeDash": [9, 12], "strokeWidth": 1.5},
         "encoding": {"y": {"datum": 20, "type": "quantitative"}}},
        {"data": {"values": [{}]}, "mark": {"type": "text", "text": "MFI (14)", "align": "left", "baseline": "middle", "fontSize": 21, "color": "#c8cbd3"},
         "encoding": {"x": {"datum": {"year":2022,"month":6,"date":15,"hours":5,"minutes":19,"utc":true}, "type": "temporal"}, "y": {"datum": 75.85, "type": "quantitative"}}},
        {"data": {"values": [{}]}, "mark": {"type": "text", "text": "35.35", "align": "left", "baseline": "middle", "fontSize": 21, "color": "#8a63d2"},
         "encoding": {"x": {"datum": {"year":2022,"month":6,"date":18,"hours":23,"minutes":52,"utc":true}, "type": "temporal"}, "y": {"datum": 75.85, "type": "quantitative"}}},
        {"data": {"values": [{}]}, "mark": {"type": "rect", "color": "#7e57c2", "cornerRadius": 3},
         "encoding": {"x": {"datum": {"year":2022,"month":9,"date":11,"hours":8,"minutes":27,"utc":true}, "type": "temporal"}, "x2": {"datum": {"year":2022,"month":9,"date":15,"hours":0,"minutes":56,"utc":true}}, "y": {"datum": 46.23, "type": "quantitative"}, "y2": {"datum": 24.08}}},
        {"data": {"values": [{}]}, "mark": {"type": "text", "text": "35.35", "align": "left", "baseline": "middle", "fontSize": 21, "color": "#ffffff"},
         "encoding": {"x": {"datum": {"year":2022,"month":9,"date":12,"hours":2,"minutes":20,"utc":true}, "type": "temporal"}, "y": {"datum": 35.16, "type": "quantitative"}}}
      ]
    },
    {
      "width": 2382, "height": 136,
      "layer": [
        {
          "data": {"name": "bars"},
          "mark": {"type": "line", "color": "#2962ff", "strokeWidth": 2, "clip": true},
          "encoding": {
            "x": {"field": "d", "type": "temporal", "scale": {"type": "utc", "domain": [{"year":2022,"month":6,"date":14,"hours":14,"minutes":23,"utc":true},{"year":2022,"month":9,"date":11,"hours":7,"minutes":34,"utc":true}]},
              "axis": {"orient": "top", "title": null, "labels": false, "ticks": false, "domain": true, "domainColor": "#2a2e39", "domainWidth": 2, "grid": false, "zindex": 0}},
            "y": {"field": "macd", "type": "quantitative", "scale": {"domain": [-14.37, 5.115], "nice": false, "zero": false},
              "axis": {"orient": "right", "title": null, "ticks": false, "tickSize": 0, "domain": false, "labelPadding": 20, "labelFontSize": 21, "labelColor": "#c8cbd3", "labelAlign": "left", "labelBaseline": "middle", "labelOverlap": false, "grid": true, "gridColor": "#232632", "gridWidth": 1.5, "zindex": 0, "values": [-10, 0], "labelExpr": "datum.value == 0 ? '' : format(datum.value, '.2f')"}}
          }
        },
        {"data": {"values": [{}]}, "mark": {"type": "rect", "color": "#1e222d"},
         "encoding": {"x": {"datum": {"year":2022,"month":6,"date":13,"hours":22,"minutes":18,"utc":true}, "type": "temporal", "axis": null}, "x2": {"datum": {"year":2022,"month":9,"date":17,"hours":6,"minutes":35,"utc":true}}, "y": {"datum": -21.96, "type": "quantitative"}, "y2": {"datum": -32}}},
        {"data": {"values": [{}]}, "mark": {"type": "rule", "color": "#2a2e39", "strokeWidth": 2},
         "encoding": {"x": {"datum": {"year":2022,"month":6,"date":14,"hours":14,"minutes":23,"utc":true}, "type": "temporal", "axis": null}, "x2": {"datum": {"year":2022,"month":9,"date":16,"hours":12,"minutes":41,"utc":true}}, "y": {"datum": -21.96, "type": "quantitative"}}},
        {
          "data": {"name": "bars"},
          "mark": {"type": "bar", "width": 24},
          "encoding": {
            "x": {"field": "d", "type": "temporal",
              "axis": {"orient": "bottom", "title": null, "ticks": false, "tickSize": 0, "domain": false, "labelPadding": 29, "labelBaseline": "middle", "labelFontSize": 21, "labelColor": "#c8cbd3", "labelOverlap": false, "labelFlush": false, "grid": true, "gridColor": "#232632", "gridWidth": 1.5, "zindex": 0,
                "values": [{"year":2022,"month":6,"date":20,"utc":true},{"year":2022,"month":7,"date":1,"utc":true},{"year":2022,"month":7,"date":11,"utc":true},{"year":2022,"month":7,"date":18,"utc":true},{"year":2022,"month":7,"date":25,"utc":true},{"year":2022,"month":8,"date":1,"utc":true},{"year":2022,"month":8,"date":8,"utc":true},{"year":2022,"month":8,"date":15,"utc":true},{"year":2022,"month":8,"date":22,"utc":true},{"year":2022,"month":9,"date":1,"utc":true},{"year":2022,"month":9,"date":7,"utc":true}],
                "labelExpr": "utcdate(datum.value) == 1 ? utcFormat(datum.value, '%b') : utcFormat(datum.value, '%-d')"}},
            "y": {"field": "hist", "type": "quantitative"},
            "y2": {"datum": 0},
            "color": {"field": "hs", "type": "nominal", "scale": {"domain": ["above_rising", "above_falling", "below_falling", "below_rising"], "range": ["#26a69a", "#b2dfdb", "#ff5252", "#ffcdd2"]}, "legend": null}
          }
        },
        {"data": {"values": [{}]}, "mark": {"type": "rule", "color": "#868993", "strokeDash": [9, 12], "strokeWidth": 1.5},
         "encoding": {"y": {"datum": 0, "type": "quantitative"}}},
        {
          "data": {"name": "bars"},
          "mark": {"type": "line", "color": "#2962ff", "strokeWidth": 2, "clip": true},
          "encoding": {
            "x": {"field": "d", "type": "temporal", "axis": null},
            "y": {"field": "macd", "type": "quantitative"}
          }
        },
        {
          "data": {"name": "bars"},
          "mark": {"type": "line", "color": "#ff6d00", "strokeWidth": 2, "clip": true},
          "encoding": {
            "x": {"field": "d", "type": "temporal", "axis": null},
            "y": {"field": "sig", "type": "quantitative"}
          }
        },
        {"data": {"values": [{}]}, "mark": {"type": "text", "text": "MACD (12, 26, close, 9, EMA, EMA)", "align": "left", "baseline": "middle", "fontSize": 21, "color": "#b8bbc3"},
         "encoding": {"x": {"datum": {"year":2022,"month":6,"date":15,"hours":5,"minutes":19,"utc":true}, "type": "temporal", "axis": null}, "y": {"datum": 0.544, "type": "quantitative"}}},
        {"data": {"values": [{}]}, "mark": {"type": "text", "text": "−1.39", "align": "left", "baseline": "middle", "fontSize": 21, "color": "#ffcdd2"},
         "encoding": {"x": {"datum": {"year":2022,"month":6,"date":29,"hours":17,"minutes":44,"utc":true}, "type": "temporal", "axis": null}, "y": {"datum": 0.544, "type": "quantitative"}}},
        {"data": {"values": [{}]}, "mark": {"type": "text", "text": "−1.28", "align": "left", "baseline": "middle", "fontSize": 21, "color": "#2962ff"},
         "encoding": {"x": {"datum": {"year":2022,"month":7,"date":2,"hours":10,"minutes":32,"utc":true}, "type": "temporal", "axis": null}, "y": {"datum": 0.544, "type": "quantitative"}}},
        {"data": {"values": [{}]}, "mark": {"type": "text", "text": "0.11", "align": "left", "baseline": "middle", "fontSize": 21, "color": "#ff6d00"},
         "encoding": {"x": {"datum": {"year":2022,"month":7,"date":5,"hours":1,"minutes":7,"utc":true}, "type": "temporal", "axis": null}, "y": {"datum": 0.544, "type": "quantitative"}}},
        {"data": {"values": [{}]}, "mark": {"type": "rect", "color": "#2962ff", "cornerRadius": 3},
         "encoding": {"x": {"datum": {"year":2022,"month":9,"date":11,"hours":8,"minutes":27,"utc":true}, "type": "temporal", "axis": null}, "x2": {"datum": {"year":2022,"month":9,"date":15,"hours":0,"minutes":56,"utc":true}}, "y": {"datum": 4.97, "type": "quantitative"}, "y2": {"datum": 0.96}}},
        {"data": {"values": [{}]}, "mark": {"type": "text", "text": "−1.28", "align": "left", "baseline": "middle", "fontSize": 21, "color": "#ffffff"},
         "encoding": {"x": {"datum": {"year":2022,"month":9,"date":12,"hours":2,"minutes":20,"utc":true}, "type": "temporal", "axis": null}, "y": {"datum": 2.97, "type": "quantitative"}}},
        {"data": {"values": [{}]}, "mark": {"type": "rect", "color": "#ffcdd2", "cornerRadius": 3},
         "encoding": {"x": {"datum": {"year":2022,"month":9,"date":11,"hours":8,"minutes":27,"utc":true}, "type": "temporal", "axis": null}, "x2": {"datum": {"year":2022,"month":9,"date":15,"hours":0,"minutes":56,"utc":true}}, "y": {"datum": 0.96, "type": "quantitative"}, "y2": {"datum": -3.625}}},
        {"data": {"values": [{}]}, "mark": {"type": "text", "text": "−1.39", "align": "left", "baseline": "middle", "fontSize": 21, "color": "#131722"},
         "encoding": {"x": {"datum": {"year":2022,"month":9,"date":12,"hours":2,"minutes":20,"utc":true}, "type": "temporal", "axis": null}, "y": {"datum": -1.33, "type": "quantitative"}}},
        {"data": {"values": [{}]}, "mark": {"type": "text", "text": "TradingView", "align": "left", "baseline": "middle", "fontSize": 25, "fontWeight": 500, "color": "#d1d4dc"},
         "encoding": {"x": {"datum": {"year":2022,"month":6,"date":16,"hours":5,"minutes":43,"utc":true}, "type": "temporal", "axis": null}, "y": {"datum": -26.83, "type": "quantitative"}}}
      ],
      "resolve": {"axis": {"x": "independent"}}
    }
  ]
}
